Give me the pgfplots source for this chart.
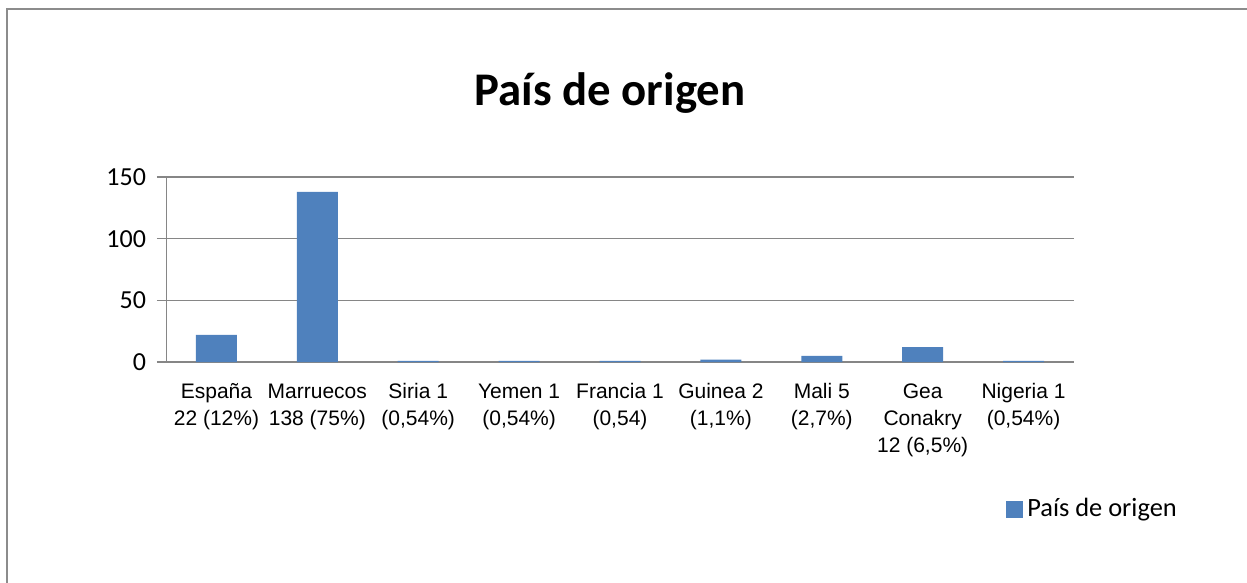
\documentclass[border=0pt]{standalone}
\usepackage{fontspec}
\setmainfont{Carlito}
\newfontfamily\arialfont{Liberation Sans}
\usepackage{pgfplots}
\pgfplotsset{compat=1.18}
\definecolor{barblue}{HTML}{4F81BD}
\definecolor{gridgray}{HTML}{868686}
\definecolor{framegray}{HTML}{8C8C8C}

\begin{document}
\begin{tikzpicture}
\useasboundingbox (-83pt,-110.5pt) rectangle (540.5pt,181pt);
% chart frame (only left and top edges are inside the picture)
\draw[framegray, line width=1.2pt] (-79.5pt,-120pt) -- (-79.5pt,176.5pt) -- (560pt,176.5pt);
\node[anchor=base, font=\bfseries\fontsize{23.4}{28}\selectfont] at (222pt,128pt) {País de origen};
\begin{axis}[
  scale only axis,
  width=454pt, height=92.5pt,
  ybar, bar width=20.5pt,
  xmin=-0.5, xmax=8.5,
  ymin=0, ymax=150,
  ytick={0,50,100,150},
  xtick={0,...,8},
  xticklabels={{\strut España\\22 (12\%)},{\strut Marruecos\\138 (75\%)},{\strut Siria 1\\(0,54\%)},{\strut Yemen 1\\(0,54\%)},{\strut Francia 1\\(0,54)},{\strut Guinea 2\\(1,1\%)},{\strut Mali 5\\(2,7\%)},{\strut Gea\\Conakry\\12 (6,5\%)},{\strut Nigeria 1\\(0,54\%)}},
  axis x line*=bottom,
  axis y line*=left,
  axis line style={gridgray, line width=0.5pt},
  ymajorgrids,
  grid style={gridgray, line width=0.6pt},
  xtick style={draw=none},
  ytick style={gridgray, line width=0.6pt},
  tick align=outside,
  major tick length=4.5pt,
  /pgf/number format/assume math mode=true,
  yticklabel style={font=\fontsize{13}{15}\selectfont, xshift=-2pt},
  xticklabel style={font=\arialfont\fontsize{10.5}{13.5}\selectfont, align=center, anchor=north, yshift=-1pt},
  legend style={draw=none, fill=none, inner sep=0pt, anchor=west, at={(0.925,-0.795)},
    font=\fontsize{13.2}{15}\selectfont},
  legend image code/.code={\fill[barblue] (0pt,-4.25pt) rectangle (8.5pt,4.25pt);},
]
\addplot[fill=barblue, draw=none] coordinates {
  (0,22) (1,138) (2,1) (3,1) (4,1) (5,2) (6,5) (7,12) (8,1)
};
\addlegendentry{País de origen}
\end{axis}
\end{tikzpicture}
\end{document}
